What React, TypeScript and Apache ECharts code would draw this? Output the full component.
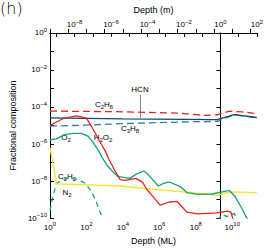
import React, { useEffect, useRef } from 'react';
import * as echarts from 'echarts';

// ---- Data (depth in monolayers, fractional composition) ----
const c2h6Depth = [1, 1e4, 1e7, 3.2e8, 1.5e9, 6.9e9, 3.2e10, 2.2e11];
const c2h6Vals = [6.0e-5, 5.5e-5, 4.7e-5, 3.5e-5, 3.8e-5, 5.9e-5, 5.5e-5, 4.4e-5];

const hcnDepth = [1, 1e4, 1.5e9, 1.26e10, 2.2e11];
const hcnVals = [2.6e-5, 2.3e-5, 2.1e-5, 3.9e-5, 2.7e-5];

const c3h8Depth = [1, 100, 7900, 5.8e7, 1.5e9, 1.26e10, 2.2e11];
const c3h8Vals = [9.3e-6, 1.05e-5, 1.26e-5, 1.6e-5, 1.66e-5, 3.8e-5, 2.6e-5];

const h2o2Depth = [1, 5.4, 29, 100, 220, 490, 1100, 1700, 3900, 7100, 1.3e4, 5.2e4, 1.2e5, 2.1e5, 3.9e5,
  1.1e6, 3.5e6, 9.5e6, 1.7e7, 3.2e7, 1.3e8, 1.4e9, 5.5e9, 8.5e9, 1.26e10];
const h2o2Vals = [1.0e-5, 2.4e-5, 3.3e-5, 2.5e-5, 6.9e-6, 1.6e-6, 4.1e-7, 1.5e-7, 3.2e-8, 1.2e-8, 1.1e-8, 1.4e-8, 8.5e-9, 3.5e-9, 1.7e-9,
  5.0e-10, 7.4e-10, 7.9e-10, 4.2e-10, 2.1e-10, 1.7e-10, 1.9e-10, 2.4e-10, 2.1e-10, 5e-11];

const o2Depth = [1, 2.3, 6, 20, 52, 120, 220, 460, 720, 1300, 2500, 5000, 1.1e4, 2.4e4, 5.2e4, 1.4e5, 2.6e5,
  8.7e5, 1.6e6, 3.5e6, 7.8e6, 1.7e7, 3.2e7, 1.3e8, 7.8e8, 6.9e9, 1.4e10, 3.5e10, 6.3e10, 8.7e10];
const o2Vals = [1.7e-6, 1.9e-6, 3.2e-6, 3.8e-6, 3.8e-6, 2.7e-6, 1.3e-6, 4.4e-7, 1.9e-7, 7.4e-8, 3.6e-8, 1.8e-8, 1.6e-8, 1.4e-8, 2.3e-8, 3.5e-8, 2.1e-8,
  5.4e-9, 7.2e-9, 8.9e-9, 6.5e-9, 4.4e-9, 2.4e-9, 1.9e-9, 2.0e-9, 3.1e-9, 1.5e-9, 3.1e-10, 1.0e-10, 6.3e-11];

const n2Depth = [1, 2.3, 110, 7900, 4.8e5, 5.8e7, 3.5e8, 1.7e9, 6.9e9, 2.2e11];
const n2Vals = [6.3e-7, 7.1e-9, 6.3e-9, 5.4e-9, 3.6e-9, 2.4e-9, 2.0e-9, 1.7e-9, 2.6e-9, 2.4e-9];

const c2h2Depth = [1, 1.4, 2.2, 6, 13, 37, 80, 180, 320, 590, 800];
const c2h2Vals = [2.5e-10, 1.3e-9, 7.1e-9, 1.3e-8, 1.4e-8, 1.2e-8, 7.9e-9, 3.0e-9, 9.1e-10, 1.9e-10, 7.9e-11];
const c2h2DeepDepth = [1.6e9, 2.8e9, 5e9, 1.26e10, 2.2e10];
const c2h2DeepVals = [7.9e-11, 1.6e-10, 1.2e-10, 1.8e-10, 6.3e-11];

const xTickExps = [0, 2, 4, 6, 8, 10];
const yTickExps = [-10, -8, -6, -4, -2, 0];

const FONT = '"Liberation Sans", Arial, Helvetica, sans-serif';

const L = (v: number) => Math.log10(v);
const pts = (xs: number[], ys: number[]) => xs.map((x, i) => [L(x), L(ys[i])]);

const expLabel = (allowed: number[]) => (v: number) => {
  const r = Math.round(v);
  if (Math.abs(v - r) > 1e-6 || allowed.indexOf(r) < 0) return '';
  const e = r < 0 ? '\u2212' + -r : String(r);
  return `{b|10}{s|${e}}`;
};

const labelRich = {
  b: { fontSize: 8, fontFamily: FONT, color: '#000', lineHeight: 12, verticalAlign: 'middle' },
  s: { fontSize: 6, fontFamily: FONT, color: '#000', lineHeight: 7, verticalAlign: 'top' },
};

const chemRich = {
  n: { fontSize: 8, fontFamily: FONT, color: '#000', lineHeight: 12, verticalAlign: 'middle' },
  s: { fontSize: 6, fontFamily: FONT, color: '#000', lineHeight: 7, verticalAlign: 'bottom' },
};

const RED = '#e3261d';
const GREEN = '#17a373';
const YELLOW = '#f5e31e';
const NAVY = '#0e4a68';
const TEAL = '#2e7c9e';

export default function App() {
  const ref = useRef<HTMLDivElement>(null);
  useEffect(() => {
    if (!ref.current) return;
    const chart = echarts.init(ref.current, undefined, { renderer: 'svg' });
    const axisLine = { show: true, lineStyle: { color: '#000', width: 1 } };
    const tick = { show: true, inside: true, length: 4, lineStyle: { color: '#000', width: 1 } };
    const chemText = (x: number, y: number, text: string) => ({
      type: 'text', x, y, silent: true,
      style: { text, rich: chemRich, fontSize: 8, fontFamily: FONT, fill: '#000',
        align: 'center', verticalAlign: 'middle', textAlign: 'center', textVerticalAlign: 'middle' },
    });
    const line = (name: string, data: number[][], color: string, dashed: boolean, dash: number[] = [7, 4]) => ({
      name, type: 'line', data, showSymbol: false, symbol: 'none', smooth: false, clip: true,
      lineStyle: { color, width: 1.3, type: dashed ? dash : 'solid' },
    });
    chart.setOption({
      animation: false,
      backgroundColor: '#fff',
      grid: { left: 41, right: 7, top: 27, bottom: 28, containLabel: false },
      xAxis: [
        {
          type: 'value', position: 'bottom', min: 0, max: 11.35, interval: 1,
          axisLine, axisTick: tick, splitLine: { show: false },
          axisLabel: { formatter: expLabel(xTickExps), rich: labelRich, margin: 3, showMaxLabel: false },
          name: 'Depth (ML)', nameLocation: 'middle', nameGap: 15,
          nameTextStyle: { fontSize: 9, fontFamily: FONT, color: '#000' },
        },
        {
          type: 'value', position: 'top', min: -9.35, max: 2, splitNumber: 11,
          axisLine, axisTick: tick, splitLine: { show: false },
          axisLabel: { formatter: expLabel([-8, -6, -4, -2, 0, 2]), rich: labelRich, margin: 2, showMinLabel: false },
          name: 'Depth (m)', nameLocation: 'middle', nameGap: 14,
          nameTextStyle: { fontSize: 9, fontFamily: FONT, color: '#000' },
        },
      ],
      yAxis: [
        {
          type: 'value', position: 'left', min: -10, max: 0, interval: 1,
          axisLine, axisTick: tick, splitLine: { show: false },
          axisLabel: { formatter: expLabel(yTickExps), rich: labelRich, margin: 3 },
          name: 'Fractional composition', nameLocation: 'middle', nameGap: 29, nameRotate: 90,
          nameTextStyle: { fontSize: 9, fontFamily: FONT, color: '#000' },
        },
        {
          type: 'value', position: 'right', min: -10, max: 0, interval: 1,
          axisLine, axisTick: tick, splitLine: { show: false },
          axisLabel: { show: false },
        },
      ],
      series: [
        line('C2H6', pts(c2h6Depth, c2h6Vals), RED, true),
        line('C3H8', pts(c3h8Depth, c3h8Vals), TEAL, true),
        line('HCN', pts(hcnDepth, hcnVals), NAVY, false),
        line('C2H2', pts(c2h2Depth, c2h2Vals), GREEN, true, [5, 4]),
        line('C2H2 deep', pts(c2h2DeepDepth, c2h2DeepVals), GREEN, true, [5, 4]),
        line('N2', pts(n2Depth, n2Vals), YELLOW, false),
        line('O2', pts(o2Depth, o2Vals), GREEN, false),
        line('H2O2', pts(h2o2Depth, h2o2Vals), RED, false),
      ],
      graphic: [
        { type: 'text', x: 0, y: 0, silent: true,
          style: { text: '(h)', fontSize: 16, fontWeight: 200, fontFamily: '"DejaVu Sans", sans-serif', fill: '#000' } },
        { type: 'line', silent: true, shape: { x1: 140.5, y1: 95, x2: 140.5, y2: 118 },
          style: { stroke: '#8a8a8a', lineWidth: 1 } },
        chemText(140, 89, '{n|HCN}'),
        chemText(104, 104, '{n|C}{s|2}{n|H}{s|6}'),
        chemText(130, 128, '{n|C}{s|3}{n|H}{s|8}'),
        chemText(66, 137, '{n|O}{s|2}'),
        chemText(103, 137, '{n|H}{s|2}{n|O}{s|2}'),
        chemText(67, 176, '{n|C}{s|2}{n|H}{s|2}'),
        chemText(67, 192, '{n|N}{s|2}'),
      ],
    });
    return () => chart.dispose();
  }, []);
  return (
    <div
      ref={ref}
      style={{ position: 'fixed', left: 0, top: 0, width: 266, height: 250, background: '#fff' }}
    />
  );
}
